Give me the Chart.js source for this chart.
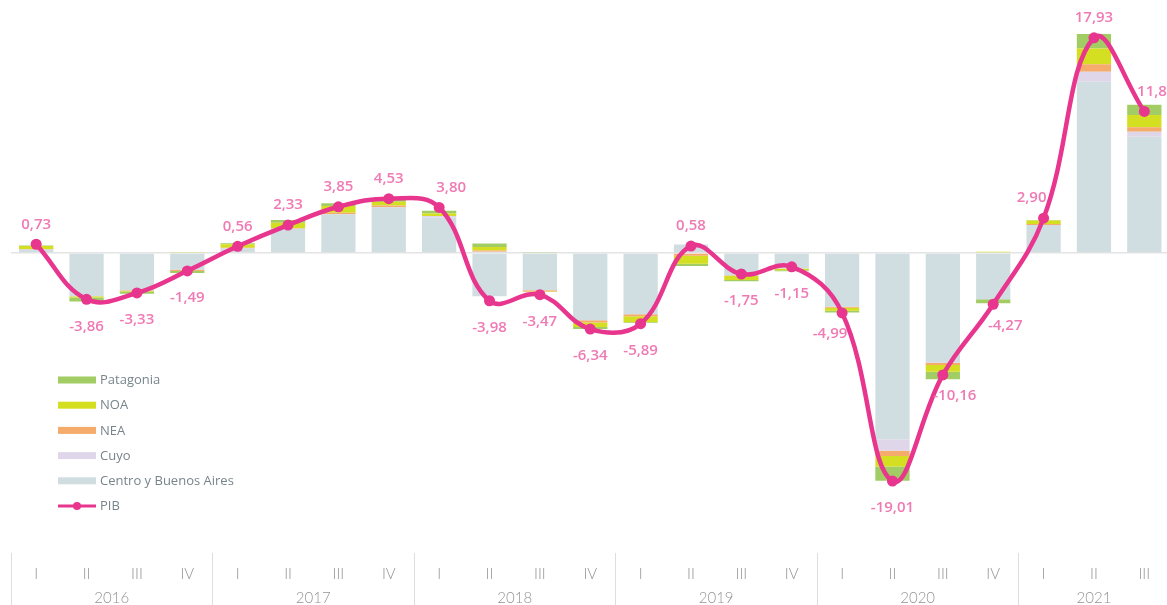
<!DOCTYPE html>
<html>
<head>
<meta charset="utf-8">
<script src="https://cdn.jsdelivr.net/npm/chart.js@4"></script>
<style>
  html, body { margin: 0; padding: 0; background: #fff; overflow: hidden; }
  #wrap { position: relative; width: 1175px; height: 605px; }
  canvas { display: block; }
</style>
</head>
<body>
<div id="wrap"><canvas id="chart" width="1175" height="605"></canvas></div>
<script>
// quarter / year labels
const quarters = ['I','II','III','IV','I','II','III','IV','I','II','III','IV','I','II','III','IV','I','II','III','IV','I','II','III'];
const years = ['2016','2017','2018','2019','2020','2021'];

// contributions per region (p.p.)
const centro    = [0.30,-3.60,-3.10,-1.40, 0.40, 2.03, 3.22, 3.81, 2.94,-3.60,-3.10,-5.60,-5.10, 0.70,-1.85,-1.30,-4.47,-15.53,-9.14,-3.86, 2.33,14.28, 9.69];
const cuyo      = [0.00, 0.00, 0.00, 0.00, 0.00, 0.00, 0.00, 0.00, 0.14, 0.10, 0.00, 0.00, 0.00, 0.00, 0.00, 0.00, 0.00, -0.94, 0.00, 0.00, 0.00, 0.83, 0.42];
const nea       = [0.03, 0.00,-0.05,-0.10, 0.03, 0.03, 0.14, 0.14, 0.00, 0.10,-0.10,-0.20,-0.17,-0.22,-0.05, 0.00,-0.10, -0.44,-0.19, 0.00, 0.08, 0.61, 0.36];
const noa       = [0.25,-0.11,-0.05, 0.08, 0.30, 0.47, 0.56, 0.33, 0.22, 0.30,-0.05,-0.36,-0.47,-0.67,-0.36,-0.14,-0.25, -0.89,-0.56, 0.10, 0.30, 1.33, 1.03];
const patagonia = [0.05,-0.33,-0.19,-0.17, 0.08, 0.22, 0.22, 0.20, 0.22, 0.30, 0.05,-0.17,-0.08,-0.20,-0.10,-0.08,-0.14, -1.17,-0.64,-0.33, 0.05, 1.19, 0.86];
const pib       = [0.73,-3.86,-3.33,-1.49, 0.56, 2.33, 3.85, 4.53, 3.80,-3.98,-3.47,-6.34,-5.89, 0.58,-1.75,-1.15,-4.99,-19.01,-10.16,-4.27, 2.90,17.93,11.80];

const PINK = '#e8358e';
const LABEL_PINK = '#f07ab4';

function fmt(v){
  return v.toFixed(2).replace('.', ',');
}

/* year labels + separators under the quarter ticks */
const yearAxisPlugin = {
  id: 'yearAxis',
  afterDraw(chart){
    const ctx = chart.ctx;
    const x = chart.scales.x;
    const top = chart.chartArea.bottom;
    const step = x.getPixelForValue(1) - x.getPixelForValue(0);
    ctx.save();
    ctx.strokeStyle = '#dedede';
    ctx.lineWidth = 1;
    ctx.fillStyle = '#949494';
    ctx.font = '300 15px Lato, "Open Sans", sans-serif';
    ctx.textAlign = 'center';
    ctx.textBaseline = 'middle';
    years.forEach((yr, i) => {
      const first = i * 4;
      const last = Math.min(first + 3, quarters.length - 1);
      const left = Math.round(x.getPixelForValue(first) - step / 2) + 0.5;
      ctx.beginPath();
      ctx.moveTo(left, top);
      ctx.lineTo(left, chart.height);
      ctx.stroke();
      const cx = (x.getPixelForValue(first) + x.getPixelForValue(last)) / 2;
      ctx.fillText(yr, cx, 598);
    });
    ctx.restore();
  }
};

/* PIB value labels: below for negatives, above for positives,
   nudged sideways away from the line where it is steep */
const pibLabelsPlugin = {
  id: 'pibLabels',
  afterDatasetsDraw(chart){
    const ctx = chart.ctx;
    const idx = chart.data.datasets.findIndex(d => d.type === 'line');
    const meta = chart.getDatasetMeta(idx);
    ctx.save();
    ctx.fillStyle = LABEL_PINK;
    ctx.font = '600 15px "Open Sans", sans-serif';
    ctx.textAlign = 'center';
    ctx.textBaseline = 'middle';
    meta.data.forEach((pt, i) => {
      const v = pib[i];
      const prev = i > 0 ? pib[i - 1] : null;
      const next = i < pib.length - 1 ? pib[i + 1] : null;
      let d = 0;
      if(prev !== null && next !== null) d = next - prev;
      else if(prev !== null) d = 2 * (v - prev);
      const extreme = prev !== null && next !== null &&
        (v >= 0 ? (v >= prev && v >= next) : (v <= prev && v <= next));
      let dx = 0;
      if(!extreme && Math.abs(d) > 8) dx = (v >= 0 ? -12 : 12) * Math.sign(d);
      let dy;
      if(v >= 0) dy = -20;
      else dy = dx ? 21 : 27;
      ctx.fillText(fmt(v), pt.x + dx, pt.y + dy);
    });
    ctx.restore();
  }
};

/* legend drawn inside the plot, lower left */
const legendPlugin = {
  id: 'insideLegend',
  afterDraw(chart){
    const ctx = chart.ctx;
    const ds = chart.data.datasets;
    const bars = ds.filter(d => d.type === 'bar').reverse();
    const items = bars.concat(ds.filter(d => d.type === 'line'));
    const x0 = 58, y0 = 380, gap = 25.2;
    ctx.save();
    ctx.font = '13px "Open Sans", sans-serif';
    ctx.textBaseline = 'middle';
    items.forEach((it, i) => {
      const y = y0 + i * gap;
      if(it.type === 'line'){
        ctx.strokeStyle = it.borderColor;
        ctx.lineWidth = 3;
        ctx.beginPath();
        ctx.moveTo(x0, y);
        ctx.lineTo(x0 + 38, y);
        ctx.stroke();
        ctx.fillStyle = it.borderColor;
        ctx.beginPath();
        ctx.arc(x0 + 19, y, 4, 0, Math.PI * 2);
        ctx.fill();
      } else {
        ctx.fillStyle = it.backgroundColor;
        ctx.fillRect(x0, y - 3.5, 38, 7);
      }
      ctx.fillStyle = '#77858b';
      ctx.fillText(it.label, x0 + 42, y + 0.5);
    });
    ctx.restore();
  }
};

function barSet(label, data, color){
  return { type: 'bar', label, data, backgroundColor: color, stack: 'regiones', order: 1,
    categoryPercentage: 1, barPercentage: 0.68, borderWidth: 0 };
}

new Chart(document.getElementById('chart'), {
  data: {
    labels: quarters,
    datasets: [
      barSet('Centro y Buenos Aires', centro, '#d0dee2'),
      barSet('Cuyo', cuyo, '#e0d6ea'),
      barSet('NEA', nea, '#f4ab6c'),
      barSet('NOA', noa, '#d5df22'),
      barSet('Patagonia', patagonia, '#a2cd64'),
      {
        type: 'line', label: 'PIB', data: pib, stack: 'pib', order: 0,
        borderColor: PINK, backgroundColor: PINK, borderWidth: 4.5,
        pointRadius: 5.5, pointBackgroundColor: PINK, pointBorderWidth: 0,
        tension: 0.4, fill: false
      }
    ]
  },
  options: {
    responsive: false,
    animation: false,
    devicePixelRatio: 1,
    layout: { padding: { left: 11, top: 13, right: 0, bottom: 0 } },
    plugins: { legend: { display: false }, tooltip: { enabled: false } },
    scales: {
      x: {
        stacked: true,
        grid: { display: false, drawTicks: false },
        border: { display: false },
        ticks: { color: '#949494', padding: 12, maxRotation: 0, autoSkip: false,
          font: { family: 'Lato, "Open Sans", sans-serif', size: 15, weight: 300 } },
        afterFit(scale){ scale.height = 52; }
      },
      y: {
        stacked: true,
        min: -25, max: 20,
        ticks: { display: false, stepSize: 5 },
        border: { display: false },
        grid: {
          drawTicks: false,
          lineWidth: 1.5,
          color: c => c.tick && c.tick.value === 0 ? '#e4e4e4' : 'rgba(0,0,0,0)'
        },
        afterFit(scale){ scale.width = 0; }
      }
    }
  },
  plugins: [yearAxisPlugin, pibLabelsPlugin, legendPlugin]
});
</script>
</body>
</html>
